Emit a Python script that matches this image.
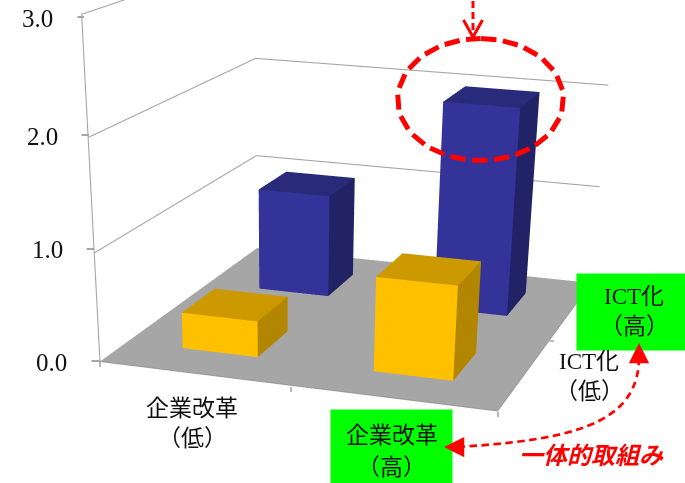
import numpy as np, plotly.graph_objects as go

# ---- data ----
tick_values = [0, 1, 2, 3]
tick_labels = ["0.0", "1.0", "2.0", "3.0"]
bar_x = [0, 1, 0, 1]              # 企業改革 (low / high)
bar_y = [0, 0, 1, 1]              # ICT化 (low / high)
bar_values = [0.34, 0.87, 1.01, 2.00]
bar_front = ["#ffc000", "#ffc000", "#333399", "#333399"]
bar_top   = ["#cc9a00", "#cc9a00", "#2a2a7a", "#2a2a7a"]
bar_side  = ["#b38600", "#b38600", "#222266", "#222266"]
cell_starts = [0.15, 0.65]
bar_width = 0.2

# ---- page: the scene is taller than the window, which crops it, so that the
#      fixed field of view of the 3D camera gives the reference's weak perspective
W, H = 685, 1500
GREY = "#a6a6a6"
RED = "#ff0000"
SANS = "Liberation Serif, Noto Sans CJK JP"
FX = lambda x: x / W
FY = lambda y: 1 - y / H
flat = dict(ambient=1, diffuse=0, specular=0, fresnel=0, roughness=1)

fig = go.Figure()
fig.add_trace(go.Mesh3d(x=[0, 1, 1, 0], y=[0, 0, 1, 1], z=[0, 0, 0, 0], i=[0, 0], j=[1, 2], k=[2, 3],
                        facecolor=[GREY, GREY], flatshading=True, lighting=flat, hoverinfo="skip"))
for cx, cy, v, cf, ct, cs in zip(bar_x, bar_y, bar_values, bar_front, bar_top, bar_side):
    x0, y0 = cell_starts[cx], cell_starts[cy]
    x1, y1 = x0 + bar_width, y0 + bar_width
    fig.add_trace(go.Mesh3d(
        x=[x0, x1, x1, x0] * 2, y=[y0, y0, y1, y1] * 2, z=[0] * 4 + [v] * 4,
        i=[0, 0, 4, 4, 1, 1], j=[1, 5, 5, 6, 2, 6], k=[5, 4, 6, 7, 6, 5],
        facecolor=[cf, cf, ct, ct, cs, cs], flatshading=True, lighting=flat, hoverinfo="skip"))

def line3d(xs, ys, zs, width=2.2, color=GREY):
    fig.add_trace(go.Scatter3d(x=xs, y=ys, z=zs, mode="lines", line=dict(color=color, width=width), hoverinfo="skip"))
for v in tick_values[1:]:
    line3d([0, 0, 1], [0, 1, 1], [v, v, v])
line3d([0, 0], [0, 0], [tick_values[0], tick_values[-1]])
line3d([0, 1, 1], [0, 0, 1], [0, 0, 0], color="#9a9a9a")

ann = []
def text(x, y, s, size=23, color="#111111", family=SANS, **font):
    ann.append(dict(x=FX(x), y=FY(y), xref="paper", yref="paper", text=s, showarrow=False,
                    xanchor="center", yanchor="middle", font=dict(size=size, color=color, family=family, **font)))
def seg(x0, y0, x1, y1, width, color, head=0, size=1):
    ann.append(dict(x=FX(x1), y=FY(y1), xref="paper", yref="paper", ax=x0 - x1, ay=y0 - y1, text=" ",
                    xanchor="center", yanchor="middle", font=dict(size=1), borderpad=0,
                    showarrow=True, arrowhead=head, arrowsize=size, arrowwidth=width, arrowcolor=color, standoff=0))
def box(x0, y0, x1, y1):
    ann.append(dict(x=FX(x0), y=FY(y0), xref="paper", yref="paper", xanchor="left", yanchor="top", text=" ",
                    showarrow=False, width=x1 - x0, height=y1 - y0, bgcolor="#00ff00", borderpad=0, font=dict(size=1)))
def dashed(path, dash, gap, width, color):
    path = np.asarray(path, float)
    lens = np.r_[0, np.cumsum(np.hypot(*np.diff(path, axis=0).T))]
    s = 0.0
    while s < lens[-1]:
        e = min(s + dash, lens[-1])
        a = [np.interp(s, lens, path[:, 0]), np.interp(s, lens, path[:, 1])]
        b = [np.interp(e, lens, path[:, 0]), np.interp(e, lens, path[:, 1])]
        seg(a[0], a[1], b[0], b[1], width, color)
        s += dash + gap

# tick marks and value labels
for x, y, x0, lab, tx in zip([100, 94, 89, 84], [361, 249, 135, 17], [91, 86, 81, 77], tick_labels, [51, 47, 42.5, 37.5]):
    seg(x0, y, x, y, 1.8, GREY)
    text(tx, y + 1, lab, size=25, family="Liberation Serif")
for x, y in [(100, 361), (291, 386), (498, 411)]:
    seg(x, y, x, y + 6, 1.6, GREY)
seg(549, 341, 554, 341, 1.6, GREY)

# green labels and axis labels
box(576, 273, 685, 349)
box(330, 409, 451, 483)
text(192, 408, "企業改革"); text(192, 439, "（低）")
text(392, 436, "企業改革"); text(392, 467, "（高）")
text(634, 296, "ICT化"); text(634, 327, "（高）")
text(589, 361, "ICT化"); text(589, 392, "（低）")
text(591, 454, "一体的取組み", size=24, color=RED, family="Noto Sans CJK JP", style="italic", weight="bold")

# dashed ellipse
t = np.linspace(-np.pi / 2, 1.5 * np.pi, 240)
dashed(np.c_[480.5 + 83 * np.cos(t), 99.5 + 61 * np.sin(t)], 16, 6, 5, RED)
# arrow from above
dashed([[473, 0], [473, 36]], 8, 3, 3, RED)
seg(463, 19, 473, 37, 3, RED)
seg(483, 19, 473, 37, 3, RED)
# curved double arrow
u = np.linspace(0, 1, 120)[:, None]
P = [np.array(p, float) for p in [(457, 447), (570, 440), (640, 425), (639, 356)]]
dashed((1 - u) ** 3 * P[0] + 3 * (1 - u) ** 2 * u * P[1] + 3 * (1 - u) * u ** 2 * P[2] + u ** 3 * P[3], 8, 4, 2.7, RED)
seg(460, 447, 444, 447, 2.7, RED, head=2, size=1.5)
seg(639, 360, 639, 343, 2.7, RED, head=2, size=1.5)

hidden = dict(visible=False, showspikes=False)
fig.update_layout(
    width=W, height=H, margin=dict(l=0, r=0, t=0, b=0), showlegend=False, hovermode=False,
    paper_bgcolor="white",
    scene=dict(domain=dict(x=[0, 1], y=[0, 1]), aspectmode="manual", dragmode=False,
               aspectratio=dict(x=1.4589, y=1.6212, z=1.1611),
               xaxis=dict(range=[0, 1], **hidden), yaxis=dict(range=[0, 1], **hidden),
               zaxis=dict(range=[0, 3], **hidden),
               camera=dict(eye=dict(x=1.9914, y=-6.5298, z=1.5161), center=dict(x=0.5611, y=-1.9486, z=-1.3062),
                           up=dict(x=-12.6946, y=39.2598, z=1), projection=dict(type="perspective"))),
    annotations=ann)
fig.write_html("out.html", config=dict(displayModeBar=False),
               post_script="document.body.style.margin='0';document.body.style.overflow='hidden';document.documentElement.style.overflow='hidden';")
